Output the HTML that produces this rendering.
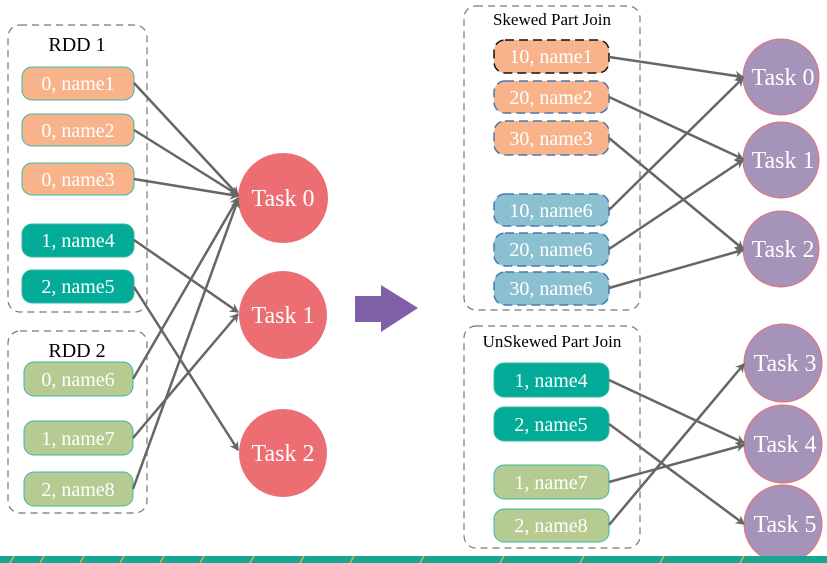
<!DOCTYPE html>
<html><head><meta charset="utf-8"><style>
html,body{margin:0;padding:0;background:#fff;}
svg{display:block;}
svg text{font-family:"Liberation Serif","Times New Roman",serif !important;}
</style></head><body>
<svg width="827" height="563" viewBox="0 0 827 563" xmlns="http://www.w3.org/2000/svg" font-family="Liberation Serif, serif">
<defs>
<marker id="ah" markerWidth="10" markerHeight="10" refX="8" refY="5" orient="auto" markerUnits="userSpaceOnUse">
<path d="M0,0 L9,5 L0,10 L3,5 Z" fill="#666"/>
</marker>
</defs>
<g fill="none" stroke="#777" stroke-width="1.2" stroke-dasharray="7,5">
<rect x="8" y="25" width="139" height="287" rx="12"/>
<rect x="8" y="331" width="139" height="182" rx="12"/>
<rect x="464" y="6" width="176" height="304" rx="12"/>
<rect x="464" y="326" width="176" height="222" rx="12"/>
</g>
<g font-size="20" fill="#000" text-anchor="middle" font-family="Liberation Serif, serif">
<text x="77" y="51">RDD 1</text>
<text x="77" y="357">RDD 2</text>
</g>
<g font-size="17" fill="#000" text-anchor="middle" font-family="Liberation Serif, serif">
<text x="552" y="25">Skewed Part Join</text>
<text x="552" y="347">UnSkewed Part Join</text>
</g>
<g stroke="#3bb8a4" stroke-width="1">
<rect x="22" y="67" width="112" height="33" rx="10" fill="#f8b38b"/>
<rect x="22" y="114" width="112" height="32" rx="10" fill="#f8b38b"/>
<rect x="22" y="163" width="112" height="32" rx="10" fill="#f8b38b"/>
<rect x="22" y="224" width="112" height="33" rx="10" fill="#02ac98"/>
<rect x="22" y="270" width="112" height="33" rx="10" fill="#02ac98"/>
<rect x="24" y="362" width="109" height="34" rx="10" fill="#b5cb91"/>
<rect x="24" y="421" width="109" height="34" rx="10" fill="#b5cb91"/>
<rect x="24" y="472" width="109" height="34" rx="10" fill="#b5cb91"/>
</g>
<g font-size="20" fill="#fff" text-anchor="middle" font-family="Liberation Serif, serif">
<text x="78" y="90">0, name1</text>
<text x="78" y="137">0, name2</text>
<text x="78" y="186">0, name3</text>
<text x="78" y="247">1, name4</text>
<text x="78" y="293">2, name5</text>
<text x="78" y="386">0, name6</text>
<text x="78" y="445">1, name7</text>
<text x="78" y="496">2, name8</text>
</g>
<g fill="#ec6e73">
<circle cx="283" cy="198" r="45"/>
<circle cx="283" cy="315" r="44"/>
<circle cx="283" cy="453" r="44"/>
</g>
<g font-size="24" fill="#fff" text-anchor="middle" font-family="Liberation Serif, serif">
<text x="283" y="206">Task 0</text>
<text x="283" y="323">Task 1</text>
<text x="283" y="461">Task 2</text>
</g>
<g stroke="#666" stroke-width="2.5" fill="none" marker-end="url(#ah)">
<line x1="134" y1="83" x2="238" y2="195"/>
<line x1="134" y1="130" x2="238" y2="195"/>
<line x1="134" y1="179" x2="238" y2="196"/>
<line x1="134" y1="240" x2="238" y2="312"/>
<line x1="134" y1="287" x2="238" y2="450"/>
<line x1="133" y1="379" x2="238" y2="198"/>
<line x1="133" y1="438" x2="238" y2="314"/>
<line x1="133" y1="489" x2="238" y2="200"/>
</g>
<path d="M355,296 L381,296 L381,285 L418,308 L381,332 L381,322 L355,322 Z" fill="#7f60a8"/>
<g stroke-width="1.5" stroke-dasharray="9,5">
<rect x="494" y="40" width="115" height="33" rx="11" fill="#f8b38b" stroke="#111"/>
<rect x="494" y="81" width="115" height="32" rx="11" fill="#f8b38b" stroke="#4a78b0"/>
<rect x="494" y="121" width="115" height="34" rx="11" fill="#f8b38b" stroke="#4a78b0"/>
<rect x="494" y="194" width="115" height="32" rx="11" fill="#8bc0d1" stroke="#4a78b0"/>
<rect x="494" y="233" width="115" height="33" rx="11" fill="#8bc0d1" stroke="#4a78b0"/>
<rect x="494" y="272" width="115" height="33" rx="11" fill="#8bc0d1" stroke="#4a78b0"/>
</g>
<g font-size="20" fill="#fff" text-anchor="middle" font-family="Liberation Serif, serif">
<text x="551" y="63">10, name1</text>
<text x="551" y="104">20, name2</text>
<text x="551" y="145">30, name3</text>
<text x="551" y="217">10, name6</text>
<text x="551" y="256">20, name6</text>
<text x="551" y="295">30, name6</text>
</g>
<g stroke="#3bb8a4" stroke-width="1">
<rect x="494" y="363" width="115" height="34" rx="10" fill="#02ac98"/>
<rect x="494" y="407" width="115" height="34" rx="10" fill="#02ac98"/>
<rect x="494" y="465" width="115" height="34" rx="10" fill="#b5cb91"/>
<rect x="494" y="509" width="115" height="33" rx="10" fill="#b5cb91"/>
</g>
<g font-size="20" fill="#fff" text-anchor="middle" font-family="Liberation Serif, serif">
<text x="551" y="387">1, name4</text>
<text x="551" y="431">2, name5</text>
<text x="551" y="489">1, name7</text>
<text x="551" y="532">2, name8</text>
</g>
<g fill="#a593ba" stroke="#ec6e73" stroke-width="1">
<circle cx="781" cy="77" r="38"/>
<circle cx="781" cy="160" r="38"/>
<circle cx="781" cy="249" r="38"/>
<circle cx="783" cy="363" r="39"/>
<circle cx="783" cy="444" r="39"/>
<circle cx="783" cy="524" r="39"/>
</g>
<g font-size="24" fill="#fff" text-anchor="middle" font-family="Liberation Serif, serif">
<text x="783" y="85">Task 0</text>
<text x="783" y="168">Task 1</text>
<text x="783" y="257">Task 2</text>
<text x="785" y="371">Task 3</text>
<text x="785" y="452">Task 4</text>
<text x="785" y="532">Task 5</text>
</g>
<g stroke="#666" stroke-width="2.5" fill="none" marker-end="url(#ah)">
<line x1="609" y1="57" x2="743" y2="77"/>
<line x1="609" y1="97" x2="743" y2="159"/>
<line x1="609" y1="138" x2="743" y2="249"/>
<line x1="609" y1="210" x2="743" y2="78"/>
<line x1="609" y1="249" x2="743" y2="160"/>
<line x1="609" y1="288" x2="743" y2="250"/>
<line x1="609" y1="380" x2="744" y2="443"/>
<line x1="609" y1="424" x2="744" y2="524"/>
<line x1="609" y1="482" x2="744" y2="445"/>
<line x1="609" y1="525" x2="744" y2="364"/>
</g>
<rect x="0" y="556" width="827" height="7" fill="#17a68f"/>
<g stroke="#f0a94a" stroke-width="1.5">
<line x1="10" y1="563" x2="14" y2="556"/><line x1="40" y1="563" x2="44" y2="556"/>
<line x1="80" y1="563" x2="84" y2="556"/><line x1="120" y1="563" x2="124" y2="556"/>
<line x1="160" y1="563" x2="164" y2="556"/><line x1="200" y1="563" x2="204" y2="556"/>
<line x1="250" y1="563" x2="254" y2="556"/><line x1="300" y1="563" x2="304" y2="556"/>
<line x1="350" y1="563" x2="354" y2="556"/><line x1="420" y1="563" x2="424" y2="556"/>
<line x1="500" y1="563" x2="504" y2="556"/><line x1="580" y1="563" x2="584" y2="556"/>
<line x1="660" y1="563" x2="664" y2="556"/><line x1="740" y1="563" x2="744" y2="556"/>
</g>
</svg>
</body></html>
